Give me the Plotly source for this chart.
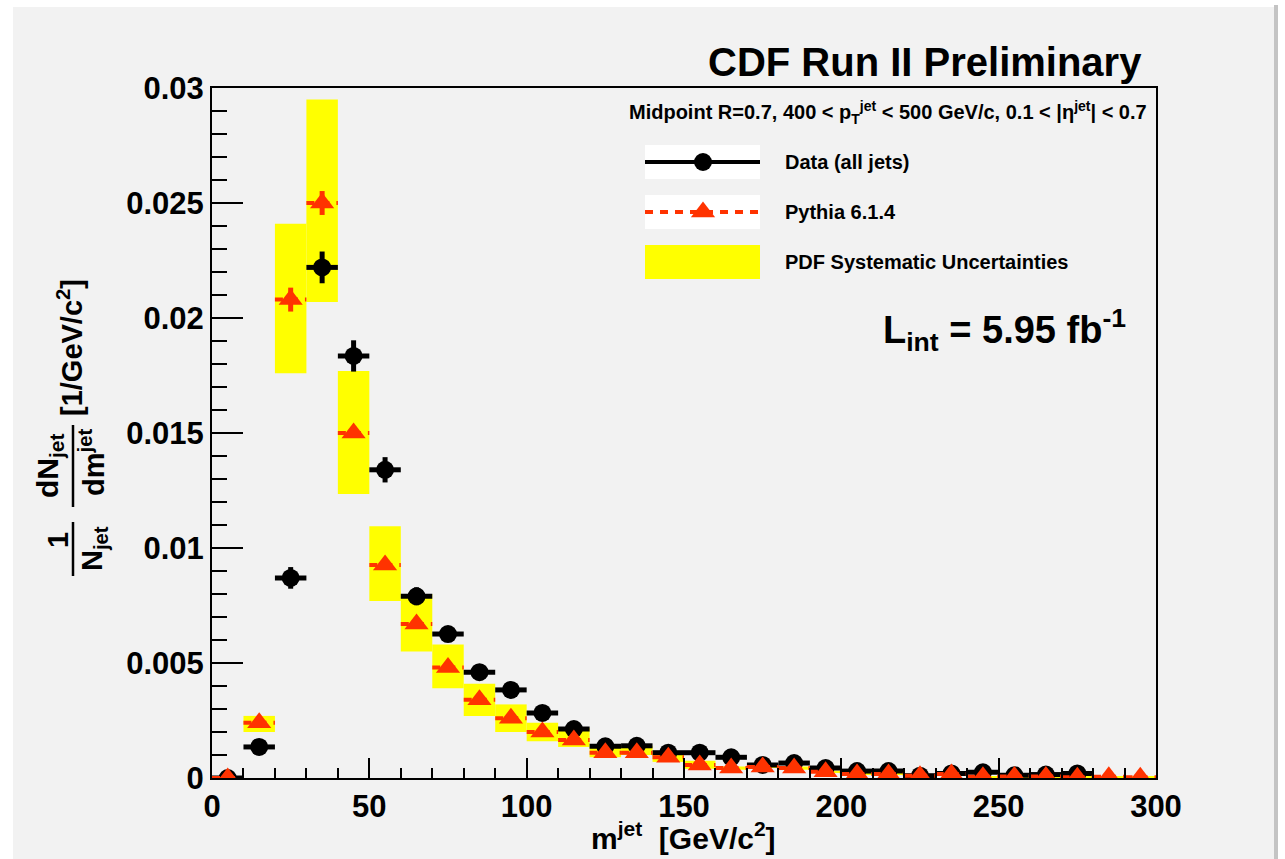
import plotly.graph_objects as go

# ---------------- data ----------------
mass_bins = [5, 15, 25, 35, 45, 55, 65, 75, 85, 95, 105, 115, 125, 135, 145,
             155, 165, 175, 185, 195, 205, 215, 225, 235, 245, 255, 265, 275, 285, 295]
bin_half_width = [5] * len(mass_bins)

data_vals = [0.0, 0.00135, 0.0087, 0.0222, 0.01835, 0.0134, 0.0079, 0.00626, 0.0046, 0.00383,
             0.00283, 0.00213, 0.00138, 0.0014, 0.0011, 0.0011, 0.0009, 0.00057, 0.00065, 0.00043,
             0.0003, 0.0003, 0.0001, 0.0002, 0.00025, 0.00012, 0.00015, 0.0002, None, None]
data_err = [0.0001, 0.0002, 0.00047, 0.00069, 0.00068, 0.00055, 0.00039, 0.0003, 0.00025, 0.0002,
            0.0002, 0.00015, 0.00012, 0.00012, 0.0001, 0.0001, 0.0001, 0.00008, 0.00008, 0.00006,
            0.00005, 0.00005, 0.00004, 0.00004, 0.00004, 0.00003, 0.00003, 0.00003, 0.0, 0.0]

pythia_vals = [0.0, 0.0024, 0.0208, 0.0250, 0.0150, 0.00926, 0.0067, 0.0048, 0.0034, 0.0026,
               0.0020, 0.00165, 0.0011, 0.0011, 0.0009, 0.00057, 0.00043, 0.00048, 0.00043, 0.00027,
               0.00017, 0.00017, 0.0001, 0.00017, 0.00005, 0.00007, 0.00007, 0.00003, 0.00005, 0.00003]
pythia_err = [0.0, 0.0001, 0.00052, 0.00052, 0.0002, 0.00018, 0.00015, 0.00012, 0.0001, 0.0001,
              0.0001, 0.00008, 0.00006, 0.00006, 0.00005, 0.00004, 0.00003, 0.00003, 0.00003, 0.00002,
              0.00002, 0.00002, 0.00001, 0.00001, 0.00001, 0.00001, 0.00001, 0.00001, 0.00001, 0.00001]

pdf_high = [0.0, 0.0027, 0.0241, 0.0295, 0.0177, 0.01095, 0.0080, 0.0058, 0.0041, 0.0032,
            0.0024, 0.00217, 0.00135, 0.0014, 0.0011, 0.00075, 0.0005, 0.00053, 0.0005, 0.00032,
            0.0002, 0.0002, 0.00013, 0.0002, 0.00008, 0.0001, 0.0001, 0.00005, 0.00007, 0.00005]
pdf_low = [0.0, 0.0020, 0.0176, 0.0207, 0.01235, 0.0077, 0.0055, 0.0039, 0.0027, 0.0020,
           0.0016, 0.00135, 0.0009, 0.0010, 0.0007, 0.0004, 0.00036, 0.00043, 0.00036, 0.00022,
           0.00014, 0.00014, 0.00007, 0.00014, 0.00002, 0.00004, 0.00004, 0.00001, 0.00003, 0.00001]

x_tickvals = [0, 50, 100, 150, 200, 250, 300]
x_ticktext = ["0", "50", "100", "150", "200", "250", "300"]
y_tickvals = [0, 0.005, 0.01, 0.015, 0.02, 0.025, 0.03]
y_ticktext = ["0", "0.005", "0.01", "0.015", "0.02", "0.025", "0.03"]

legend_labels = ["Data (all jets)", "Pythia 6.1.4", "PDF Systematic Uncertainties"]

# ---------------- layout geometry (pixels) ----------------
W, H = 1285, 859
L, R, T, B = 212, 1156, 88, 778
FONT = "Liberation Sans"
RED = "#ff3300"
YEL = "#ffff00"
CIRCLE_SIZE = 18
TRI_SIZE = 21


def px(x):
    return (x - L) / (R - L)


def py(y):
    return (B - y) / (B - T)


fig = go.Figure()

# PDF systematic bands
fig.add_trace(go.Bar(
    x=mass_bins, base=pdf_low,
    y=[h - l for h, l in zip(pdf_high, pdf_low)],
    width=[2 * w for w in bin_half_width],
    marker=dict(color=YEL, line=dict(width=0)),
    showlegend=False, hoverinfo="skip"))

# Data points
fig.add_trace(go.Scatter(
    x=mass_bins, y=data_vals, mode="markers",
    marker=dict(symbol="circle", size=CIRCLE_SIZE, color="black"),
    error_x=dict(type="data", array=bin_half_width, thickness=5, width=0, color="black"),
    error_y=dict(type="data", array=data_err, thickness=5, width=0, color="black"),
    showlegend=False))

# Pythia dashed horizontal bin lines
hx, hy = [], []
for c, w, v in zip(mass_bins, bin_half_width, pythia_vals):
    hx += [c - w, c + w, None]
    hy += [v, v, None]
fig.add_trace(go.Scatter(
    x=hx, y=hy, mode="lines",
    line=dict(color=RED, width=4, dash="8px,7px"),
    showlegend=False, hoverinfo="skip"))

# Pythia markers
fig.add_trace(go.Scatter(
    x=mass_bins, y=pythia_vals, mode="markers",
    marker=dict(symbol="triangle-up", size=TRI_SIZE, color=RED),
    error_y=dict(type="data", array=pythia_err, thickness=5, width=0, color=RED),
    showlegend=False))

# ---------------- manual legend (overlay pixel axes) ----------------
leg_x0, leg_x1, leg_xm = 645, 760, 703
leg_rows = [162, 212, 262]
fig.add_trace(go.Scatter(x=[leg_x0, leg_x1], y=[leg_rows[0]] * 2, mode="lines",
                         line=dict(color="black", width=4), xaxis="x2", yaxis="y2",
                         showlegend=False, hoverinfo="skip"))
fig.add_trace(go.Scatter(x=[leg_xm], y=[leg_rows[0]], mode="markers",
                         marker=dict(symbol="circle", size=CIRCLE_SIZE, color="black"),
                         xaxis="x2", yaxis="y2", showlegend=False, hoverinfo="skip"))
fig.add_trace(go.Scatter(x=[leg_x0, leg_x1], y=[leg_rows[1]] * 2, mode="lines",
                         line=dict(color=RED, width=4, dash="8px,7px"), xaxis="x2", yaxis="y2",
                         showlegend=False, hoverinfo="skip"))
fig.add_trace(go.Scatter(x=[leg_xm], y=[leg_rows[1]], mode="markers",
                         marker=dict(symbol="triangle-up", size=TRI_SIZE, color=RED),
                         xaxis="x2", yaxis="y2", showlegend=False, hoverinfo="skip"))

shapes = []
# page background: grey panel with white margins
shapes.append(dict(type="rect", xref="paper", yref="paper", layer="below",
                   x0=px(13), x1=px(1274), y0=py(7), y1=py(H),
                   fillcolor="#f2f2f2", line=dict(width=0)))
shapes.append(dict(type="rect", xref="paper", yref="paper", layer="below",
                   x0=px(1274), x1=px(1278), y0=py(5), y1=py(H),
                   fillcolor="#c4c4c4", line=dict(width=0)))
# legend boxes
for i, col in enumerate(["white", "white", YEL]):
    shapes.append(dict(type="rect", xref="paper", yref="paper", layer="below",
                       x0=px(leg_x0), x1=px(leg_x1),
                       y0=py(leg_rows[i] - 17), y1=py(leg_rows[i] + 17),
                       fillcolor=col, line=dict(width=0)))
# fraction bars of y title
shapes.append(dict(type="line", xref="paper", yref="paper",
                   x0=px(73), x1=px(73), y0=py(522), y1=py(576),
                   line=dict(color="black", width=2.5)))
shapes.append(dict(type="line", xref="paper", yref="paper",
                   x0=px(73), x1=px(73), y0=py(425), y1=py(507),
                   line=dict(color="black", width=2.5)))

ann = []


def A(text, x, y, size, xanchor="center", yanchor="middle", angle=0):
    ann.append(dict(text=text, x=px(x), y=py(y), xref="paper", yref="paper",
                    showarrow=False, xanchor=xanchor, yanchor=yanchor, textangle=angle,
                    font=dict(family=FONT, size=size, color="black", weight="bold")))


A("CDF Run II Preliminary", 1144, 62, 40, xanchor="right")
A("Midpoint R=0.7, 400 &lt; p<sub>T</sub><sup>jet</sup> &lt; 500 GeV/c, 0.1 &lt; |η<sup>jet</sup>| &lt; 0.7",
  1149, 112, 20, xanchor="right")
for i, lab in enumerate(legend_labels):
    A(lab, 783, leg_rows[i], 20, xanchor="left")
A("L<sub>int</sub> = 5.95 fb<sup>-1</sup>", 1128, 330, 38, xanchor="right")
A("m<sup>jet</sup>  [GeV/c<sup>2</sup>]", 683, 836, 30)
# y title as a fraction
A("1", 58, 540, 29, angle=-90)
A("N<sub>jet</sub>", 94, 549, 29, angle=-90)
A("dN<sub>jet</sub>", 50, 466, 30, angle=-90)
A("dm<sup>jet</sup>", 92, 463, 29, angle=-90)
A("[1/GeV/c<sup>2</sup>]", 70, 348, 29, angle=-90)

tickfont = dict(family=FONT, size=31, color="black", weight="bold")

fig.update_layout(
    width=W, height=H, autosize=False,
    margin=dict(l=L, r=W - R, t=T, b=H - B, pad=0),
    paper_bgcolor="white", plot_bgcolor="#f2f2f2",
    barmode="overlay", showlegend=False,
    shapes=shapes, annotations=ann,
    xaxis=dict(range=[0, 300], tickvals=x_tickvals, ticktext=x_ticktext,
               ticks="inside", ticklen=20, tickwidth=2, tickcolor="black",
               minor=dict(tickmode="linear", tick0=0, dtick=10, ticks="inside",
                          ticklen=10, tickwidth=2, tickcolor="black"),
               showline=True, linecolor="black", linewidth=2, mirror=True,
               showgrid=False, zeroline=False, tickfont=tickfont),
    yaxis=dict(range=[0, 0.03], tickvals=y_tickvals, ticktext=y_ticktext,
               ticks="inside", ticklen=31, tickwidth=2, tickcolor="black",
               minor=dict(tickmode="linear", tick0=0, dtick=0.001, ticks="inside",
                          ticklen=15, tickwidth=2, tickcolor="black"),
               showline=True, linecolor="black", linewidth=2, mirror=True,
               showgrid=False, zeroline=False, tickfont=tickfont),
    xaxis2=dict(range=[L, R], overlaying="x", visible=False, fixedrange=True),
    yaxis2=dict(range=[B, T], overlaying="y", visible=False, fixedrange=True),
)

fig.write_html("out.html")
